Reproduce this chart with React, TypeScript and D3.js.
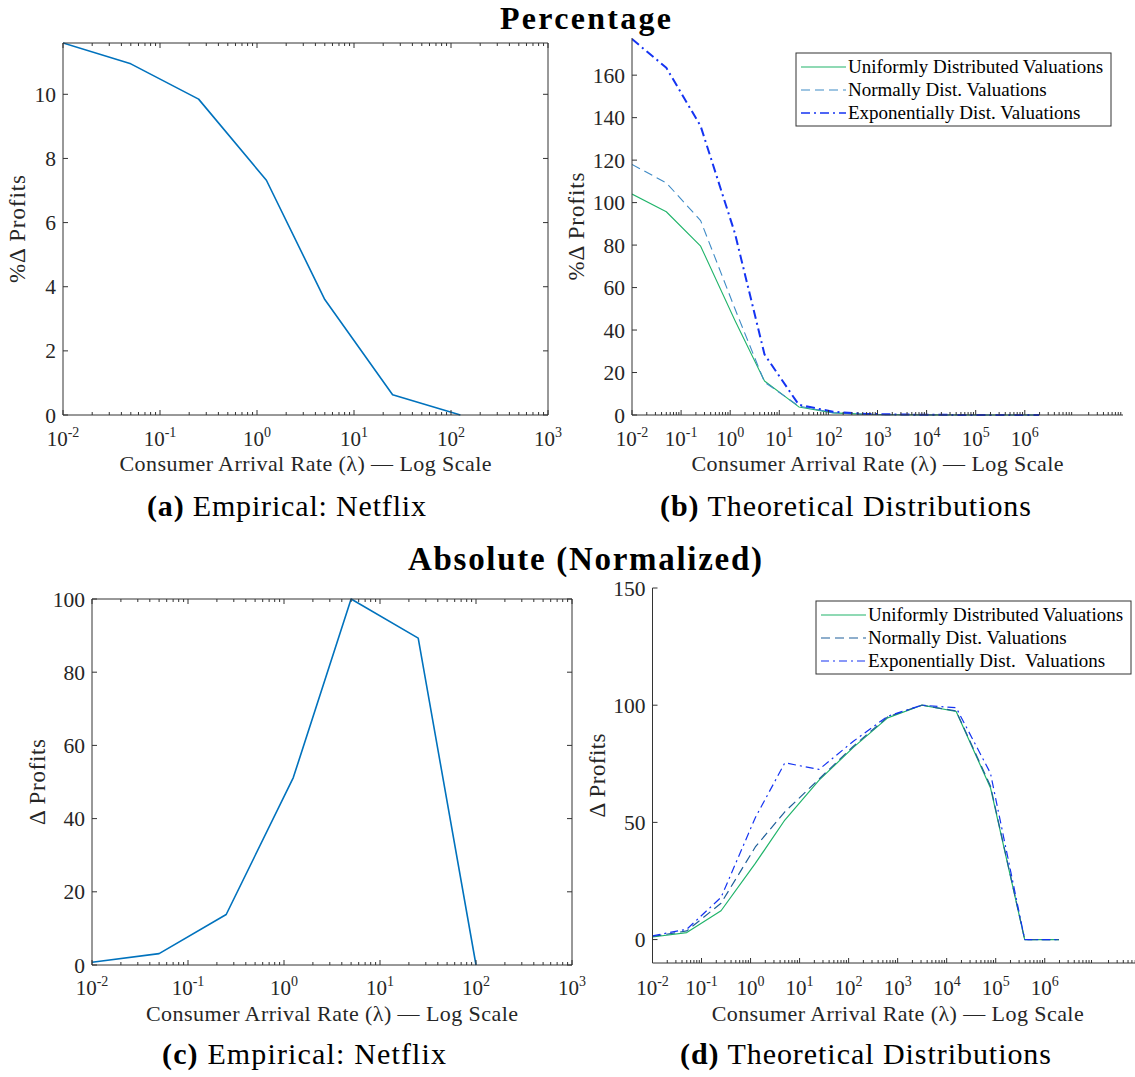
import React from 'react';
import * as d3 from 'd3';

// ---------- DATA ----------
// (a) Percentage change, empirical Netflix
const lambdaPctNetflix = [0.01, 0.05, 0.25, 1.25, 5, 25, 125];
const pctNetflix = [11.6, 10.95, 9.85, 7.32, 3.6, 0.63, 0];

// (c) Absolute (normalized) change, empirical Netflix
const lambdaAbsNetflix = [0.01, 0.05, 0.25, 1.25, 5, 25, 100];
const absNetflix = [0.75, 3.1, 13.8, 51.2, 100, 89.3, 0];

// (b), (d) Theoretical distributions
const lambdaTheory = [0.01, 0.05, 0.25, 1.25, 5, 25, 125, 625, 3125, 15625, 78125, 390625, 1953125];
const pctUniform = [104, 95.7, 79.5, 44.5, 16, 3.8, 1.0, 0.3, 0.1, 0.05, 0, 0, 0];
const pctNormal = [118, 109.3, 91.5, 50, 15.5, 4.2, 1.1, 0.3, 0.1, 0.05, 0, 0, 0];
const pctExp = [177, 163.5, 136, 85.5, 28.5, 4.8, 1.5, 0.5, 0.2, 0.1, 0, 0, 0];
const absUniform = [1.1, 3.0, 12.3, 32.5, 51, 68, 82, 94.6, 100, 97.3, 64.8, 0, 0];
const absNormal = [1.3, 3.7, 15.5, 39.5, 54.5, 68.5, 82.5, 95, 100, 97.5, 65.5, 0, 0];
const absExp = [1.6, 4.4, 18, 52, 75.4, 72.6, 84.6, 95.3, 100, 98.9, 71, 0, 0];

const legendPct = ['Uniformly Distributed Valuations', 'Normally Dist. Valuations', 'Exponentially Dist. Valuations'];
const legendAbs = ['Uniformly Distributed Valuations', 'Normally Dist. Valuations', 'Exponentially Dist.\u00A0 Valuations'];

const yTicksPctNetflix = [0, 2, 4, 6, 8, 10];
const yTicksPctTheory = [0, 20, 40, 60, 80, 100, 120, 140, 160];
const yTicksAbsNetflix = [0, 20, 40, 60, 80, 100];
const yTicksAbsTheory = [0, 50, 100, 150];
const xTickExpNetflix = [-2, -1, 0, 1, 2, 3];
const xTickExpTheory = [-2, -1, 0, 1, 2, 3, 4, 5, 6];

const xLabelText = 'Consumer Arrival Rate (\u03BB) \u2014 Log Scale';

// ---------- STYLE ----------
const FONT = '"Liberation Serif", "Times New Roman", serif';
const AX = '#333333';
const TXT = '#262626';

type Series = { x: number[]; y: number[]; color: string; width: number; dash?: string };

type PanelProps = {
  left: number; right: number; top: number; bottom: number;
  xDomain: [number, number]; yDomain: [number, number];
  yTicks: number[]; xTickExps: number[];
  box: boolean; series: Series[];
  yLabel: string; yLabelX: number; yLabelLen: number;
  xLabelY: number; xTickDy: number;
  legend?: { names: string[]; x0: number; y0: number; x1: number; y1: number; rows: number[] };
};

function Panel(p: PanelProps) {
  const x = d3.scaleLog().domain(p.xDomain).range([p.left, p.right]);
  const y = d3.scaleLinear().domain(p.yDomain).range([p.bottom, p.top]);
  const line = d3.line<[number, number]>().x(d => x(d[0])).y(d => y(d[1]));
  const kMin = Math.floor(Math.log10(p.xDomain[0]));
  const kMax = Math.ceil(Math.log10(p.xDomain[1]));
  const minor: number[] = [];
  for (let k = kMin; k < kMax; k++) {
    for (let m = 2; m <= 9; m++) {
      const v = m * Math.pow(10, k);
      if (v >= p.xDomain[0] && v <= p.xDomain[1]) minor.push(v);
    }
  }
  const majorLen = 5;
  const minorLen = 3;
  const cx = (p.left + p.right) / 2;
  const cy = (p.top + p.bottom) / 2;
  const id = 'clip' + Math.round(p.left) + '_' + Math.round(p.top);
  return (
    <g>
      <defs>
        <clipPath id={id}>
          <rect x={p.left} y={p.top - 2} width={p.right - p.left} height={p.bottom - p.top + 4} />
        </clipPath>
      </defs>
      <g clipPath={`url(#${id})`}>
        {p.series.map((s, i) => (
          <path key={i} d={line(s.x.map((v, j) => [v, s.y[j]] as [number, number])) || ''}
            fill="none" stroke={s.color} strokeWidth={s.width} strokeDasharray={s.dash}
            strokeLinejoin="round" />
        ))}
      </g>
      <g stroke={AX} strokeWidth={1} fill="none">
        <line x1={p.left} x2={p.right} y1={p.bottom} y2={p.bottom} />
        <line x1={p.left} x2={p.left} y1={p.top} y2={p.bottom} />
        {p.box && <line x1={p.left} x2={p.right} y1={p.top} y2={p.top} />}
        {p.box && <line x1={p.right} x2={p.right} y1={p.top} y2={p.bottom} />}
        {p.xTickExps.map(e => {
          const xx = x(Math.pow(10, e));
          return (
            <g key={'M' + e}>
              <line x1={xx} x2={xx} y1={p.bottom} y2={p.bottom - majorLen} />
              {p.box && <line x1={xx} x2={xx} y1={p.top} y2={p.top + majorLen} />}
            </g>
          );
        })}
        {minor.map((v, i) => {
          const xx = x(v);
          return (
            <g key={'m' + i}>
              <line x1={xx} x2={xx} y1={p.bottom} y2={p.bottom - minorLen} />
              {p.box && <line x1={xx} x2={xx} y1={p.top} y2={p.top + minorLen} />}
            </g>
          );
        })}
        {p.yTicks.map(t => (
          <g key={'y' + t}>
            <line x1={p.left} x2={p.left + majorLen} y1={y(t)} y2={y(t)} />
            {p.box && <line x1={p.right} x2={p.right - majorLen} y1={y(t)} y2={y(t)} />}
          </g>
        ))}
      </g>
      <g fontFamily={FONT} fill={TXT}>
        {p.yTicks.map(t => (
          <text key={'yl' + t} x={p.left - 7} y={y(t)} dy="0.35em" textAnchor="end" fontSize={21.5}>{t}</text>
        ))}
        {p.xTickExps.map(e => (
          <text key={'xl' + e} x={x(Math.pow(10, e))} y={p.bottom + p.xTickDy} textAnchor="middle" fontSize={21}>
            <tspan>10</tspan>
            <tspan dy={-9} fontSize={14}>{e}</tspan>
          </text>
        ))}
        <text x={cx} y={p.xLabelY} textAnchor="middle" fontSize={22} textLength={372}>{xLabelText}</text>
        <text transform={`translate(${p.yLabelX},${cy}) rotate(-90)`} textAnchor="middle" dy="0.35em"
          fontSize={23} textLength={p.yLabelLen}>{p.yLabel}</text>
      </g>
      {p.legend && (
        <g>
          <rect x={p.legend.x0} y={p.legend.y0} width={p.legend.x1 - p.legend.x0}
            height={p.legend.y1 - p.legend.y0} fill="white" stroke={AX} strokeWidth={1} />
          {p.legend.names.map((n, i) => {
            const s = p.series[i];
            const ry = p.legend!.rows[i];
            return (
              <g key={'lg' + i}>
                <line x1={p.legend!.x0 + 5} x2={p.legend!.x0 + 50} y1={ry} y2={ry}
                  stroke={s.color} strokeWidth={Math.min(s.width, 1.6)} strokeDasharray={s.dash} />
                <text x={p.legend!.x0 + 52} y={ry} dy="0.33em" fontFamily={FONT} fontSize={19}
                  fill="#000">{n}</text>
              </g>
            );
          })}
        </g>
      )}
    </g>
  );
}

const netColor = '#0072BD';
const green = '#20b46a';
const expBlue = '#1433f2';

export default function App() {
  const W = 1135, H = 1077;
  return (
    <svg width={W} height={H} style={{ position: 'absolute', left: 0, top: 0, background: '#fff' }}>
      <rect x={0} y={0} width={W} height={H} fill="#fff" />
      <g fontFamily={FONT} fill="#000">
        <text x={585.5} y={29} textAnchor="middle" fontSize={32} fontWeight="bold" textLength={171}>Percentage</text>
        <text x={585} y={570} textAnchor="middle" fontSize={33} fontWeight="bold" textLength={354}>Absolute (Normalized)</text>
        <text x={286.5} y={516} textAnchor="middle" fontSize={30} textLength={279}>
          <tspan fontWeight="bold">(a)</tspan><tspan> Empirical: Netflix</tspan>
        </text>
        <text x={845.5} y={516} textAnchor="middle" fontSize={30} textLength={371}>
          <tspan fontWeight="bold">(b)</tspan><tspan> Theoretical Distributions</tspan>
        </text>
        <text x={304} y={1064} textAnchor="middle" fontSize={30} textLength={284}>
          <tspan fontWeight="bold">(c)</tspan><tspan> Empirical: Netflix</tspan>
        </text>
        <text x={865.5} y={1064} textAnchor="middle" fontSize={30} textLength={371}>
          <tspan fontWeight="bold">(d)</tspan><tspan> Theoretical Distributions</tspan>
        </text>
      </g>
      <Panel left={63} right={548} top={43} bottom={415}
        xDomain={[0.01, 1000]} yDomain={[0, 11.6]} yTicks={yTicksPctNetflix} xTickExps={xTickExpNetflix}
        box={true} series={[{ x: lambdaPctNetflix, y: pctNetflix, color: netColor, width: 1.6 }]}
        yLabel={'%\u0394 Profits'} yLabelX={17} yLabelLen={108} xLabelY={471} xTickDy={31} />
      <Panel left={632} right={1123} top={38} bottom={415}
        xDomain={[0.01, 1e8]} yDomain={[0, 177.5]} yTicks={yTicksPctTheory} xTickExps={xTickExpTheory}
        box={false}
        series={[
          { x: lambdaTheory, y: pctUniform, color: green, width: 1.1 },
          { x: lambdaTheory, y: pctNormal, color: '#3f8bc6', width: 1.1, dash: '9,5' },
          { x: lambdaTheory, y: pctExp, color: expBlue, width: 2.0, dash: '9,4,2,4' },
        ]}
        yLabel={'%\u0394 Profits'} yLabelX={576} yLabelLen={108} xLabelY={471} xTickDy={31}
        legend={{ names: legendPct, x0: 796, y0: 53, x1: 1111, y1: 126, rows: [67, 90, 113] }} />
      <Panel left={92} right={572} top={599} bottom={965}
        xDomain={[0.01, 1000]} yDomain={[0, 100]} yTicks={yTicksAbsNetflix} xTickExps={xTickExpNetflix}
        box={true} series={[{ x: lambdaAbsNetflix, y: absNetflix, color: netColor, width: 1.6 }]}
        yLabel={'\u0394 Profits'} yLabelX={37} yLabelLen={86} xLabelY={1021} xTickDy={30} />
      <Panel left={652.5} right={1142.8} top={588} bottom={963}
        xDomain={[0.01, 1e8]} yDomain={[-10, 150]} yTicks={yTicksAbsTheory} xTickExps={xTickExpTheory}
        box={false}
        series={[
          { x: lambdaTheory, y: absUniform, color: green, width: 1.2 },
          { x: lambdaTheory, y: absNormal, color: '#1f5f99', width: 1.2, dash: '9,5' },
          { x: lambdaTheory, y: absExp, color: expBlue, width: 1.2, dash: '8,4,2,4' },
        ]}
        yLabel={'\u0394 Profits'} yLabelX={597} yLabelLen={84} xLabelY={1021} xTickDy={32}
        legend={{ names: legendAbs, x0: 816, y0: 601, x1: 1131, y1: 674, rows: [615, 638, 661] }} />
    </svg>
  );
}
